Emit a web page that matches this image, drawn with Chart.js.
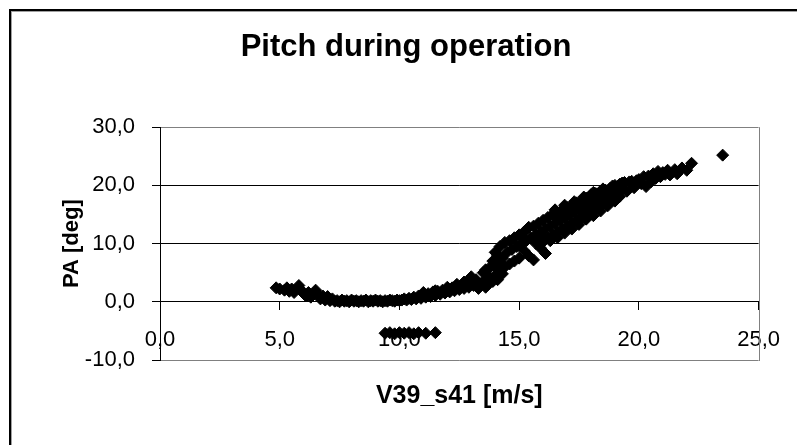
<!DOCTYPE html>
<html>
<head>
<meta charset="utf-8">
<script src="https://cdn.jsdelivr.net/npm/chart.js@4/dist/chart.umd.min.js"></script>
<style>
  html, body { margin: 0; padding: 0; background: #fff; }
  #chart { display: block; }
</style>
</head>
<body>
<canvas id="chart" width="797" height="445"></canvas>
<script>
const chartTitle = 'Pitch during operation';
const xTitle = 'V39_s41 [m/s]';
const yTitle = 'PA [deg]';

const xTickValues = [0, 5, 10, 15, 20, 25];
const xTickLabels = ['0,0', '5,0', '10,0', '15,0', '20,0', '25,0'];
const yTickValues = [-10, 0, 10, 20, 30];
const yTickLabels = ['-10,0', '0,0', '10,0', '20,0', '30,0'];

// wind speed [m/s] and pitch angle [deg]
const windSpeed = [
  4.85, 5.0, 5.2, 5.3, 5.4, 5.5, 5.6, 5.8, 5.9, 6.0, 6.1, 6.2, 6.3, 6.4, 6.5, 6.6, 6.7, 6.8, 6.9, 7.0, 7.1, 7.2, 7.3,
  7.4, 7.5, 7.6, 7.7, 7.8, 7.9, 8.0, 8.1, 8.2, 8.3, 8.4, 8.5, 8.6, 8.7, 8.8, 8.9, 9.0, 9.1, 9.2, 9.3, 9.4, 9.5, 9.6, 9.7, 9.8, 9.9, 10.0,
  10.1, 10.2, 10.3, 10.4, 10.5, 10.6, 10.7, 10.8, 10.9, 11.0, 11.1, 11.2, 11.3, 11.4, 11.5, 11.6, 11.7, 11.8, 11.9, 12.0,
  12.1, 12.2, 12.3, 12.4, 12.5, 12.6, 12.7, 12.8, 12.9, 13.0, 13.1, 13.2, 13.3, 13.4, 13.5, 13.6, 13.7, 13.8, 13.9,
  14.0, 14.0, 14.1, 14.2, 14.2, 14.3, 14.4, 14.4, 14.5, 14.6, 14.6, 14.7, 14.8, 14.8, 14.9,
  15.0, 15.0, 15.1, 15.2, 15.2, 15.3, 15.4, 15.4, 15.6, 15.5, 15.6, 15.9, 15.7, 15.8, 15.8, 15.9,
  16.1, 16.0, 16.0, 16.1, 16.2, 16.2, 16.3, 16.4, 16.4, 16.5, 16.6, 16.6, 16.7, 16.8, 16.8, 16.9,
  17.0, 17.0, 17.1, 17.2, 17.2, 17.3, 17.4, 17.4, 17.5, 17.6, 17.6, 17.7, 17.8, 17.8, 17.9,
  18.0, 18.0, 18.1, 18.2, 18.2, 18.3, 18.4, 18.4, 18.5, 18.6, 18.6, 18.7, 18.8, 18.8, 18.9,
  19.0, 19.0, 19.1, 19.2, 19.2, 19.3, 19.4, 19.5, 19.6, 19.7, 19.8, 19.9,
  20.0, 20.1, 20.2, 20.3, 20.4, 20.5, 20.6, 20.7, 20.8, 20.9,
  21.0, 21.1, 21.2, 21.3, 21.5, 21.6, 21.8, 22.0, 22.2, 23.5,
  9.4, 9.6, 9.8, 10.0, 10.2, 10.4, 10.6, 10.8, 11.1, 11.5,
  11.0, 11.5, 12.0, 12.4, 12.7,
  13.5, 13.6, 13.7, 13.8, 13.9, 14.0, 14.1, 14.1, 14.3,
  15.7, 16.0, 16.3, 16.6, 16.9, 17.2, 17.5, 17.8, 18.1, 18.4, 18.7, 19.0,
  16.5, 16.9, 17.3, 17.7, 18.1, 18.5, 18.9, 19.3
];
const pitchAngle = [
  2.4, 2.2, 2.0, 2.4, 1.8, 2.2, 1.6, 2.8, 2.0, 1.4, 1.0, 1.6, 0.8, 1.4, 2.0, 1.2, 0.5, 1.0, 0.3, 0.9, 0.2, 0.5, 0.1,
  0.2, 0.0, 0.3, 0.1, 0.2, 0.0, 0.3, 0.1, 0.2, 0.0, 0.2, 0.1, 0.3, 0.0, 0.2, 0.1, 0.3, 0.1, 0.2, 0.0, 0.2, 0.1, 0.3, 0.2, 0.1, 0.3, 0.2,
  0.3, 0.5, 0.3, 0.6, 0.4, 0.8, 0.5, 1.0, 0.6, 1.2, 0.8, 1.4, 0.9, 1.7, 1.1, 1.8, 1.3, 2.0, 1.5, 2.2,
  1.7, 2.4, 1.9, 2.6, 2.1, 2.8, 2.3, 3.2, 2.5, 4.3, 2.8, 3.8, 2.3, 3.0, 5.0, 2.5, 4.5, 6.0, 3.5,
  8.5, 4.5, 6.5, 9.5, 5.0, 7.5, 10.2, 6.0, 8.5, 10.5, 6.5, 9.0, 11.0, 7.0, 9.5,
  11.5, 7.5, 10.0, 12.0, 8.8, 10.5, 12.8, 7.9, 7.2, 11.0, 13.0, 9.2, 11.5, 13.5, 10.6, 12.0,
  8.3, 14.0, 11.0, 12.5, 14.5, 11.0, 13.0, 15.0, 11.5, 13.5, 15.2, 12.0, 14.0, 15.8, 12.5, 14.5,
  16.2, 13.0, 15.0, 16.5, 13.5, 15.5, 17.0, 14.0, 15.8, 17.3, 14.5, 16.2, 17.8, 15.0, 16.5,
  18.4, 15.5, 17.0, 18.6, 16.0, 17.5, 19.0, 16.5, 17.8, 19.2, 17.0, 18.2, 19.5, 17.5, 18.6,
  20.0, 17.8, 19.0, 20.2, 18.1, 19.3, 20.5, 19.0, 20.6, 20.7, 19.6, 20.8,
  21.0, 20.3, 21.5, 19.8, 21.6, 20.6, 22.0, 21.2, 22.4, 21.5,
  22.2, 21.9, 22.6, 21.8, 22.7, 22.0, 23.0, 22.6, 23.8, 25.2,
  -5.4, -5.3, -5.5, -5.3, -5.4, -5.3, -5.5, -5.3, -5.4, -5.3,
  1.6, 1.9, 2.5, 3.0, 3.4,
  3.5, 5.5, 3.0, 4.0, 7.0, 6.0, 8.0, 3.8, 4.8,
  10.0, 10.3, 10.5, 11.0, 11.8, 12.5, 13.3, 14.2, 14.8, 15.6, 16.5, 17.3,
  15.8, 16.6, 17.2, 18.0, 18.8, 19.4, 19.9, 20.4
];

const fontFamily = "'Liberation Sans', Arial, sans-serif";

const points = windSpeed.map((v, i) => ({ x: v, y: pitchAngle[i] }));

const excelFrame = {
    id: 'excelFrame',
    beforeDraw(chart) {
        const ctx = chart.ctx;
        ctx.save();
        ctx.fillStyle = '#fff';
        ctx.fillRect(0, 0, chart.width, chart.height);
        // outer chart border (only top/left are inside the picture)
        ctx.fillStyle = '#000';
        ctx.fillRect(9, 9, chart.width - 9, 2);
        ctx.fillRect(9, 9, 2, chart.height - 9);
        ctx.fillStyle = '#a0a0a0';
        ctx.fillRect(11, 11, chart.width - 11, 1);
        ctx.fillRect(11, 11, 1, chart.height - 11);
        ctx.restore();
    },
    beforeDatasetsDraw(chart) {
        const { ctx, chartArea: a } = chart;
        ctx.save();
        ctx.strokeStyle = '#808080';
        ctx.lineWidth = 1;
        ctx.beginPath();
        ctx.moveTo(Math.round(a.right) + 0.5, a.top);
        ctx.lineTo(Math.round(a.right) + 0.5, a.bottom + 1);
        ctx.stroke();
        ctx.restore();
    },
    afterDraw(chart) {
        const { ctx, chartArea: a } = chart;
        ctx.save();
        ctx.fillStyle = '#000';
        ctx.font = 'bold 25px ' + fontFamily;
        ctx.textAlign = 'center';
        ctx.textBaseline = 'alphabetic';
        ctx.fillText(xTitle, (a.left + a.right) / 2, 403);
        ctx.font = 'bold 22px ' + fontFamily;
        ctx.translate(72, (a.top + a.bottom) / 2);
        ctx.rotate(-Math.PI / 2);
        ctx.textBaseline = 'middle';
        ctx.fillText(yTitle, 0, 0);
        ctx.restore();
    }
};

new Chart(document.getElementById('chart').getContext('2d'), {
    type: 'scatter',
    data: {
        datasets: [{
            label: yTitle,
            data: points,
            pointStyle: 'rectRot',
            pointRadius: 6,
            pointBorderWidth: 1,
            backgroundColor: '#000',
            borderColor: '#000',
            showLine: false
        }]
    },
    options: {
        responsive: false,
        animation: false,
        events: [],
        layout: { padding: { left: 53, right: 38, top: 0, bottom: 85 } },
        plugins: {
            legend: { display: false },
            tooltip: { enabled: false },
            title: {
                display: true,
                text: chartTitle,
                color: '#000',
                font: { family: fontFamily, size: 31, weight: 'bold' },
                padding: { top: 29, bottom: 61 }
            }
        },
        scales: {
            x: {
                type: 'linear',
                position: { y: 0 },
                min: 0, max: 25,
                afterBuildTicks: s => { s.ticks = xTickValues.map(v => ({ value: v })); },
                ticks: {
                    color: '#000',
                    padding: 17,
                    maxRotation: 0,
                    font: { family: fontFamily, size: 22 },
                    callback: v => xTickLabels[xTickValues.indexOf(v)]
                },
                grid: { drawOnChartArea: false, drawTicks: true, tickLength: 8, tickColor: '#000' },
                border: { display: true, color: '#000', width: 1 }
            },
            y: {
                type: 'linear',
                min: -10, max: 30,
                afterBuildTicks: s => { s.ticks = yTickValues.map(v => ({ value: v })); },
                afterFit: s => { s.width = 107; },
                ticks: {
                    color: '#000',
                    padding: 17,
                    font: { family: fontFamily, size: 22 },
                    callback: v => yTickLabels[yTickValues.indexOf(v)]
                },
                grid: {
                    color: c => (c.tick && (c.tick.value === 30 || c.tick.value === -10)) ? '#808080' : '#000',
                    tickLength: 8,
                    tickColor: '#000'
                },
                border: { display: true, color: '#000', width: 1 }
            }
        }
    },
    plugins: [excelFrame]
});
</script>
</body>
</html>
